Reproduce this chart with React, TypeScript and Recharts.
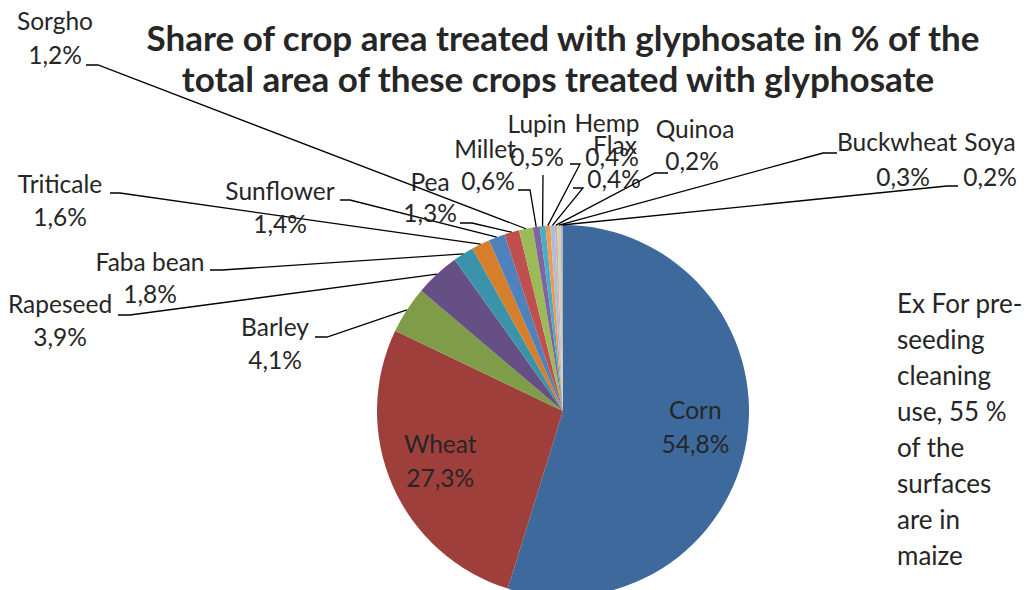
import React from "react";
import { PieChart, Pie, Cell } from "recharts";

const crops = ["Corn", "Wheat", "Barley", "Rapeseed", "Faba bean", "Triticale", "Sunflower", "Pea", "Sorgho", "Millet", "Lupin", "Hemp", "Flax", "Quinoa", "Buckwheat", "Soya"];
const shares = [54.8, 27.3, 4.1, 3.9, 1.8, 1.6, 1.4, 1.3, 1.2, 0.6, 0.5, 0.4, 0.4, 0.2, 0.3, 0.2];
const colors = ["#3D699C", "#9F3F3C", "#7F9C48", "#664F85", "#3A93AA", "#D57F2C", "#4F81BD", "#C0504D", "#9BBB59", "#8064A2", "#4BACC6", "#F79646", "#A7BFDE", "#DDA9A8", "#C9D8A8", "#BBAFCF"];
const titleLines = ["Share of crop area treated with glyphosate in % of the", "total area of these crops treated with glyphosate"];
const noteLines = ["Ex For pre-", "seeding", "cleaning", "use, 55 %", "of the", "surfaces", "are in", "maize"];

const data = crops.map((name, i) => ({ name, value: shares[i] }));

// label placement: text center x, name baseline, value baseline, stub [outerX, innerX, y]
const placement: Record<string, { tx: number; ny: number; vy: number; vx?: number; stub: [number, number, number] }> = {
  Barley: { tx: 275, ny: 336, vy: 369, stub: [315, 327, 337] },
  Rapeseed: { tx: 60, ny: 313, vy: 346, stub: [118, 130, 315] },
  "Faba bean": { tx: 150, ny: 271, vy: 303, stub: [210, 222, 270] },
  Triticale: { tx: 60, ny: 193, vy: 226, stub: [110, 120, 193] },
  Sunflower: { tx: 280, ny: 200, vy: 233, stub: [340, 350, 200] },
  Pea: { tx: 430, ny: 191, vy: 222, stub: [460, 472, 223] },
  Sorgho: { tx: 55, ny: 30, vy: 64, stub: [86, 98, 65] },
  Millet: { tx: 485, ny: 158, vy: 190, vx: 488, stub: [518, 530, 190] },
  Lupin: { tx: 537, ny: 133, vy: 166, stub: [543, 543, 175] },
  Hemp: { tx: 607, ny: 132, vy: 166, vx: 612, stub: [570, 580, 164] },
  Flax: { tx: 615, ny: 154, vy: 188, vx: 614, stub: [573, 583, 188] },
  Quinoa: { tx: 695, ny: 138, vy: 170, vx: 692, stub: [668, 655, 173] },
  Buckwheat: { tx: 897, ny: 151, vy: 186, vx: 903, stub: [837, 823, 153] },
  Soya: { tx: 990, ny: 151, vy: 186, stub: [958, 947, 186] },
};

const FONT = "Lato, 'Open Sans', sans-serif";
const TEXT = "#262626";
const RAD = Math.PI / 180;
const fmt = (v: number) => v.toFixed(1).replace(".", ",") + "%";

const renderLabel = (props: any) => {
  const { cx, cy, midAngle, outerRadius, name, value } = props;
  const cos = Math.cos(-midAngle * RAD);
  const sin = Math.sin(-midAngle * RAD);
  const p = placement[name];
  if (!p) {
    const r = outerRadius * 0.72;
    const x = cx + r * cos;
    const y = cy + r * sin;
    return (
      <g>
        <text x={x} y={y - 12} textAnchor="middle" fontFamily={FONT} fontSize={24.5} fill={TEXT}>{name}</text>
        <text x={x} y={y + 22} textAnchor="middle" fontFamily={FONT} fontSize={24.5} fill={TEXT}>{fmt(value)}</text>
      </g>
    );
  }
  const ex = cx + outerRadius * cos;
  const ey = cy + outerRadius * sin;
  const [ox, ix, sy] = p.stub;
  return (
    <g>
      <polyline points={`${ox},${sy} ${ix},${sy} ${ex},${ey}`} fill="none" stroke="#000" strokeWidth={1.3} />
      <text x={p.tx} y={p.ny} textAnchor="middle" fontFamily={FONT} fontSize={24.5} fill={TEXT}>{name}</text>
      <text x={p.vx ?? p.tx} y={p.vy} textAnchor="middle" fontFamily={FONT} fontSize={24.5} fill={TEXT}>{fmt(value)}</text>
    </g>
  );
};

export default function App() {
  return (
    <div style={{ position: "absolute", left: 0, top: 0, width: 1027, height: 590, background: "#fff", overflow: "hidden" }}>
      <PieChart width={1027} height={590} margin={{ top: 0, right: 0, bottom: 0, left: 0 }}>
        <text x={563} y={51} textAnchor="middle" fontFamily={FONT} fontWeight={700} fontSize={35} fill={TEXT}>{titleLines[0]}</text>
        <text x={558} y={92} textAnchor="middle" fontFamily={FONT} fontWeight={700} fontSize={35} fill={TEXT}>{titleLines[1]}</text>
        {noteLines.map((t, i) => (
          <text key={t} x={897} y={313 + i * 36} fontFamily={FONT} fontSize={26} fill={TEXT}>{t}</text>
        ))}
        <Pie
          data={data}
          dataKey="value"
          nameKey="name"
          cx={563}
          cy={411}
          outerRadius={186}
          startAngle={90}
          endAngle={-270}
          stroke="none"
          label={renderLabel}
          labelLine={false}
          isAnimationActive={false}
        >
          {data.map((d, i) => (
            <Cell key={d.name} fill={colors[i]} />
          ))}
        </Pie>
      </PieChart>
    </div>
  );
}
